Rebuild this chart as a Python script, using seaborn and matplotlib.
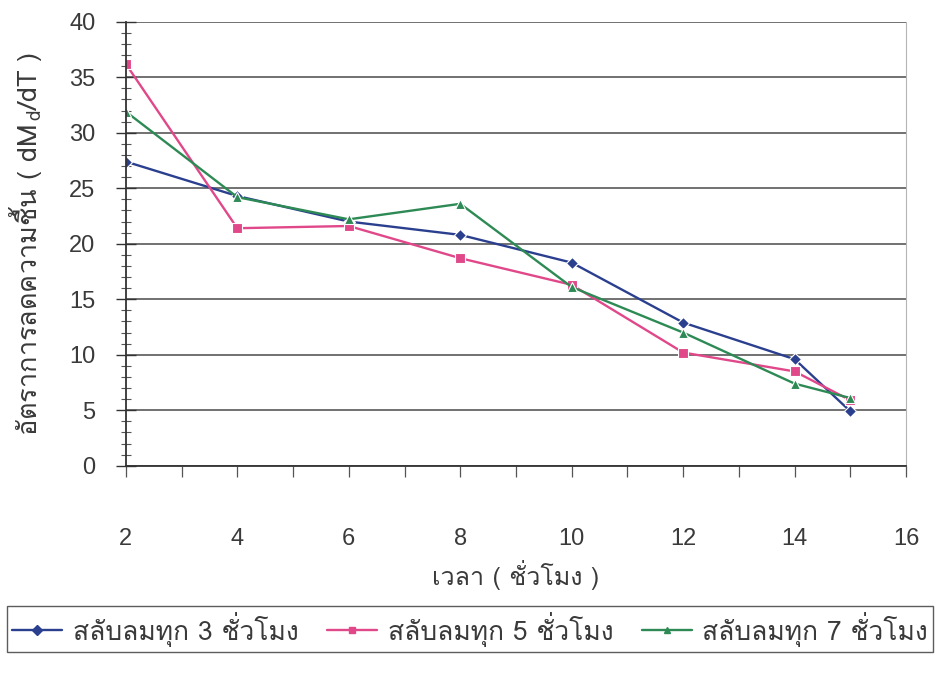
import numpy as np
import pandas as pd
import seaborn as sns
import matplotlib
matplotlib.use("Agg")
import matplotlib.pyplot as plt
from matplotlib import font_manager
from matplotlib.ticker import MultipleLocator

# Drying-rate data (hours vs. dMd/dT) for three air-reversal schedules
hours = [2, 4, 6, 8, 10, 12, 14, 15]
rate_3h = [27.4, 24.3, 22.0, 20.8, 18.3, 12.9, 9.6, 4.9]
rate_5h = [36.2, 21.4, 21.6, 18.7, 16.3, 10.2, 8.5, 5.9]
rate_7h = [31.9, 24.2, 22.2, 23.6, 16.1, 12.0, 7.4, 6.1]
series_names = ["สลับลมทุก 3 ชั่วโมง", "สลับลมทุก 5 ชั่วโมง", "สลับลมทุก 7 ชั่วโมง"]
x_ticks = [2, 4, 6, 8, 10, 12, 14, 16]
y_ticks = [0, 5, 10, 15, 20, 25, 30, 35, 40]

colors = ["#2b3f8f", "#e0488a", "#2e8a55"]
markers = ["D", "s", "^"]

sns.set_theme(style="white")
installed = {f.name for f in font_manager.fontManager.ttflist}
thai = next((n for n in ["Loma", "Noto Sans Thai Looped", "IBM Plex Sans Thai"]
             if n in installed), "DejaVu Sans")
plt.rcParams["font.family"] = ["Liberation Sans", thai, "DejaVu Sans"]
plt.rcParams["mathtext.fontset"] = "custom"
plt.rcParams["mathtext.rm"] = thai
plt.rcParams["mathtext.it"] = thai
text_color = "#3a3a3a"

df = pd.DataFrame({
    "hour": hours * 3,
    "rate": rate_3h + rate_5h + rate_7h,
    "series": [series_names[0]] * len(hours) + [series_names[1]] * len(hours)
              + [series_names[2]] * len(hours),
})

fig = plt.figure(figsize=(9.39, 6.79), dpi=100)
ax = fig.add_axes([0.134, 0.314, 0.831, 0.654])

sns.lineplot(
    data=df, x="hour", y="rate", hue="series", style="series",
    palette=dict(zip(series_names, colors)),
    markers=dict(zip(series_names, markers)), dashes=False,
    markersize=6.5, linewidth=1.7, markeredgewidth=0.8, ax=ax, legend=False,
)

ax.set_xlim(2, 16)
ax.set_ylim(0, 40)
ax.set_xticks(x_ticks)
ax.set_yticks(y_ticks)
ax.xaxis.set_minor_locator(MultipleLocator(1))
ax.yaxis.set_minor_locator(MultipleLocator(1))

ax.grid(axis="y", which="major", color="#4a4a4a", linewidth=1.1)
ax.grid(axis="x", visible=False)

ax.spines["top"].set_visible(False)
ax.spines["left"].set_color("#333333")
ax.spines["left"].set_linewidth(1.3)
ax.spines["bottom"].set_color("#333333")
ax.spines["bottom"].set_linewidth(1.3)
ax.spines["right"].set_color("#b5b5b5")
ax.spines["right"].set_linewidth(0.8)

ax.tick_params(axis="both", which="both", left=True, bottom=True)
ax.tick_params(axis="y", which="major", direction="inout", length=14, width=1.0,
               color="#333333", labelsize=17, labelcolor=text_color, pad=15)
ax.tick_params(axis="y", which="minor", direction="inout", length=7, width=0.8,
               color="#555555")
ax.tick_params(axis="x", which="both", direction="out", length=8, width=0.9,
               color="#555555")
ax.tick_params(axis="x", which="major", labelsize=17, labelcolor=text_color, pad=37)

ax.set_xlabel("เวลา ( ชั่วโมง )", fontsize=18, color=text_color, labelpad=7,
              family=[thai, "DejaVu Sans"])
ax.set_ylabel("อัตราการลดความชื้น ( dM$_{\\mathrm{\\,d}}$/dT )", fontsize=19.5,
              color=text_color, labelpad=18, family=[thai])

handles = [
    plt.Line2D([], [], color=c, marker=m, markersize=5, linewidth=1.7)
    for c, m in zip(colors, markers)
]
leg = fig.legend(
    handles, series_names, loc="lower left", ncol=3, mode="expand",
    bbox_to_anchor=(0.007, 0.04, 0.987, 0.07), prop={"family": [thai], "size": 19},
    frameon=True, fancybox=False, edgecolor="#333333",
    handlelength=1.9, handletextpad=0.4, columnspacing=0.6, borderpad=0.2,
    borderaxespad=0,
)
leg.get_frame().set_linewidth(1.0)
for t in leg.get_texts():
    t.set_color(text_color)

fig.savefig("out.png", dpi=100, facecolor="white")
